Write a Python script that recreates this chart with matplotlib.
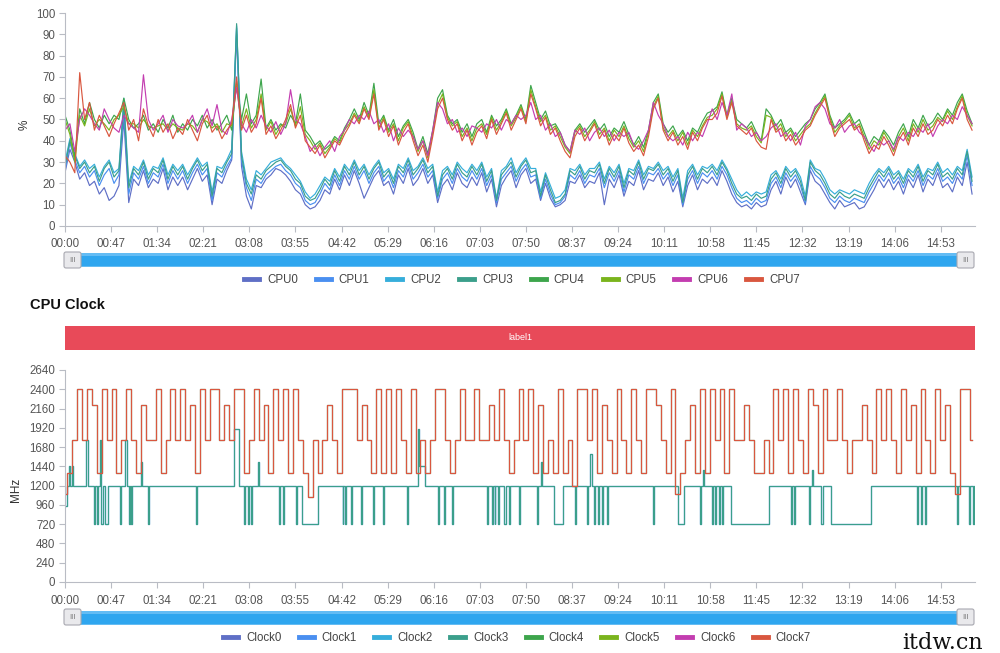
import numpy as np
import matplotlib.pyplot as plt
from matplotlib.patches import Rectangle, FancyBboxPatch
from matplotlib.lines import Line2D

plt.rcParams['font.family'] = ['Liberation Sans', 'DejaVu Sans']

# sample times in seconds (one reading every 5 s)
seconds = np.arange(0, 926, 5)

tick_labels = ["00:00", "00:47", "01:34", "02:21", "03:08", "03:55", "04:42",
               "05:29", "06:16", "07:03", "07:50", "08:37", "09:24", "10:11",
               "10:58", "11:45", "12:32", "13:19", "14:06", "14:53"]

# CPU load (%), 12 values per minute
cpu0 = [25, 36, 30, 22, 25, 19, 21, 15, 18, 12, 14, 19,
        50, 11, 22, 19, 26, 18, 22, 20, 27, 17, 23, 19,
        23, 17, 22, 27, 21, 24, 10, 22, 20, 26, 31, 90,
        28, 14, 8, 19, 18, 22, 24, 27, 26, 24, 21, 17,
        15, 10, 8, 9, 12, 17, 15, 22, 17, 24, 19, 26,
        20, 13, 18, 23, 26, 19, 21, 15, 24, 20, 27, 19,
        22, 27, 20, 24, 11, 19, 22, 17, 25, 20, 18, 23,
        19, 25, 16, 22, 9, 19, 23, 26, 18, 24, 27, 20,
        22, 12, 20, 13, 9, 10, 12, 21, 20, 24, 18, 21,
        20, 25, 10, 22, 18, 24, 14, 21, 19, 26, 17, 22,
        21, 25, 19, 23, 16, 21, 9, 19, 24, 17, 22, 20,
        23, 19, 26, 21, 15, 11, 9, 10, 8, 11, 9, 10,
        17, 21, 15, 23, 18, 22, 16, 10, 26, 21, 19, 15,
        11, 8, 12, 9, 10, 11, 8, 9, 13, 17, 22, 18,
        22, 17, 21, 15, 22, 18, 24, 16, 22, 19, 25, 18,
        20, 16, 23, 19, 30, 15]
cpu1 = [26, 39, 31, 25, 28, 23, 26, 19, 24, 27, 20, 24,
        55, 15, 25, 22, 28, 20, 25, 23, 29, 20, 26, 22,
        26, 20, 25, 29, 24, 27, 12, 25, 23, 28, 32, 93,
        31, 18, 12, 22, 20, 24, 26, 28, 29, 26, 24, 20,
        18, 12, 10, 11, 15, 20, 17, 24, 19, 26, 22, 28,
        22, 26, 20, 25, 28, 21, 24, 18, 26, 23, 29, 22,
        25, 29, 23, 26, 13, 22, 25, 20, 27, 23, 21, 26,
        22, 27, 19, 24, 11, 22, 25, 28, 21, 26, 29, 23,
        24, 13, 22, 15, 10, 11, 14, 24, 22, 26, 20, 24,
        23, 27, 18, 25, 21, 26, 16, 24, 22, 28, 20, 25,
        24, 27, 22, 25, 19, 24, 10, 22, 26, 20, 25, 23,
        26, 22, 28, 24, 18, 13, 11, 12, 10, 13, 11, 12,
        20, 23, 18, 25, 21, 24, 19, 11, 28, 24, 22, 18,
        13, 11, 14, 12, 11, 13, 12, 11, 16, 20, 24, 21,
        25, 20, 23, 18, 24, 21, 26, 19, 24, 22, 27, 21,
        23, 20, 25, 22, 33, 19]
cpu2 = [30, 41, 34, 28, 31, 27, 29, 23, 28, 31, 25, 27,
        60, 20, 28, 26, 31, 24, 28, 27, 32, 24, 29, 26,
        29, 24, 28, 32, 28, 30, 16, 28, 27, 31, 36, 94,
        35, 22, 17, 26, 24, 27, 30, 31, 32, 29, 27, 24,
        21, 16, 13, 15, 19, 23, 21, 27, 23, 29, 26, 31,
        26, 29, 24, 28, 31, 25, 27, 22, 29, 27, 32, 26,
        28, 32, 27, 29, 16, 26, 28, 24, 30, 27, 25, 29,
        26, 30, 23, 27, 13, 26, 28, 32, 25, 29, 32, 27,
        27, 16, 25, 19, 13, 14, 17, 27, 26, 29, 24, 27,
        27, 30, 22, 28, 25, 29, 20, 27, 26, 31, 24, 28,
        27, 30, 26, 28, 23, 27, 13, 26, 29, 24, 28, 27,
        29, 26, 31, 27, 22, 17, 14, 16, 14, 16, 15, 16,
        24, 26, 22, 28, 25, 27, 23, 14, 31, 27, 26, 22,
        17, 15, 17, 16, 15, 17, 16, 15, 20, 24, 27, 25,
        28, 24, 26, 22, 27, 25, 29, 23, 27, 26, 30, 25,
        27, 24, 28, 26, 36, 23]
cpu3 = [28, 40, 33, 27, 30, 25, 28, 21, 27, 30, 23, 26,
        58, 18, 27, 24, 30, 22, 27, 25, 31, 22, 28, 24,
        28, 22, 27, 31, 26, 29, 14, 27, 25, 30, 34, 95,
        33, 20, 15, 24, 22, 26, 28, 30, 31, 28, 26, 22,
        20, 14, 12, 13, 17, 22, 19, 26, 21, 28, 24, 30,
        24, 28, 22, 27, 30, 23, 26, 20, 28, 25, 31, 24,
        27, 31, 25, 28, 14, 24, 27, 22, 29, 25, 23, 28,
        24, 29, 21, 26, 12, 24, 27, 30, 23, 28, 31, 25,
        26, 14, 24, 17, 11, 12, 15, 26, 24, 28, 22, 26,
        25, 29, 20, 27, 23, 28, 18, 26, 24, 30, 22, 27,
        26, 29, 24, 27, 21, 26, 11, 24, 28, 22, 27, 25,
        28, 24, 30, 26, 20, 15, 13, 14, 12, 15, 13, 14,
        22, 25, 20, 27, 23, 26, 21, 12, 30, 26, 24, 20,
        15, 13, 16, 14, 13, 15, 14, 13, 18, 22, 26, 23,
        27, 22, 25, 20, 26, 23, 28, 21, 26, 24, 29, 23,
        25, 22, 27, 24, 35, 21]
cpu4 = [52, 45, 32, 55, 48, 58, 50, 46, 52, 48, 52, 50,
        60, 50, 46, 48, 52, 45, 48, 44, 50, 46, 52, 44,
        48, 45, 50, 47, 52, 46, 50, 45, 48, 52, 45, 68,
        50, 62, 48, 52, 69, 46, 50, 45, 48, 46, 52, 48,
        62, 45, 42, 38, 40, 36, 38, 42, 40, 46, 50, 55,
        50, 58, 52, 67, 48, 52, 45, 50, 42, 47, 50, 44,
        36, 42, 34, 45, 60, 64, 52, 48, 50, 44, 48, 42,
        48, 50, 44, 52, 47, 50, 55, 48, 52, 57, 50, 66,
        58, 50, 54, 47, 48, 44, 38, 35, 45, 48, 44, 47,
        50, 45, 48, 42, 46, 44, 49, 43, 38, 42, 37, 45,
        58, 62, 48, 44, 47, 42, 45, 40, 46, 44, 49, 53,
        54, 56, 63, 52, 60, 50, 48, 46, 49, 44, 40, 55,
        52, 47, 50, 44, 46, 42, 45, 48, 50, 55, 58, 62,
        52, 46, 48, 50, 53, 48, 50, 44, 38, 42, 40, 45,
        42, 38, 44, 48, 42, 50, 46, 52, 47, 49, 53, 50,
        55, 52, 58, 62, 54, 48]
cpu5 = [50, 43, 30, 52, 47, 55, 47, 50, 48, 45, 50, 52,
        56, 48, 48, 46, 50, 47, 46, 47, 48, 45, 48, 46,
        45, 48, 47, 44, 50, 49, 46, 48, 44, 48, 47, 66,
        47, 55, 46, 50, 62, 45, 49, 43, 47, 48, 55, 47,
        56, 43, 40, 36, 39, 34, 37, 41, 39, 45, 48, 53,
        49, 56, 51, 64, 46, 51, 44, 48, 40, 46, 49, 42,
        35, 40, 32, 44, 57, 62, 51, 47, 49, 42, 46, 40,
        46, 48, 43, 51, 45, 49, 54, 47, 51, 56, 49, 64,
        56, 49, 52, 45, 47, 42, 37, 34, 44, 47, 42, 45,
        49, 43, 46, 40, 45, 42, 47, 41, 37, 40, 35, 44,
        56, 61, 46, 42, 45, 40, 44, 38, 45, 42, 47, 51,
        52, 55, 62, 51, 59, 48, 46, 45, 47, 42, 39, 52,
        51, 45, 48, 42, 45, 40, 43, 46, 48, 53, 57, 61,
        51, 44, 47, 49, 52, 46, 48, 42, 36, 40, 38, 44,
        40, 35, 42, 46, 40, 48, 44, 50, 45, 47, 51, 49,
        54, 50, 56, 61, 52, 47]
cpu6 = [45, 48, 35, 50, 55, 52, 48, 45, 55, 50, 46, 44,
        52, 48, 46, 44, 71, 50, 45, 48, 52, 44, 50, 47,
        46, 48, 52, 44, 50, 55, 47, 57, 45, 43, 50, 65,
        48, 44, 50, 46, 52, 47, 44, 49, 43, 48, 64, 50,
        48, 42, 35, 38, 33, 37, 40, 35, 42, 45, 50, 48,
        52, 50, 54, 48, 50, 44, 48, 40, 46, 42, 45, 42,
        36, 40, 33, 45, 58, 55, 48, 50, 44, 46, 42, 47,
        46, 44, 48, 46, 50, 45, 50, 48, 52, 50, 52, 58,
        50, 52, 45, 48, 42, 44, 38, 35, 45, 43, 46, 40,
        44, 46, 42, 45, 40, 44, 42, 44, 38, 36, 40, 45,
        58, 52, 48, 42, 40, 42, 38, 44, 40, 44, 42, 48,
        55, 50, 58, 52, 62, 45, 48, 46, 42, 44, 40, 42,
        46, 48, 42, 44, 40, 44, 38, 47, 50, 56, 58, 55,
        48, 46, 50, 44, 47, 48, 44, 42, 38, 35, 40, 38,
        40, 36, 42, 40, 44, 42, 46, 44, 48, 42, 47, 50,
        48, 52, 50, 56, 52, 48]
cpu7 = [33, 30, 25, 72, 50, 58, 45, 52, 47, 42, 48, 53,
        58, 45, 50, 40, 55, 47, 42, 50, 44, 48, 41, 46,
        43, 50, 45, 40, 48, 52, 44, 47, 41, 45, 48, 70,
        45, 52, 44, 48, 60, 43, 47, 41, 45, 50, 57, 46,
        52, 40, 37, 34, 38, 32, 36, 40, 38, 43, 47, 52,
        48, 55, 50, 62, 45, 50, 42, 47, 38, 44, 48, 40,
        33, 38, 30, 42, 55, 60, 50, 45, 48, 40, 45, 38,
        44, 47, 41, 50, 43, 48, 53, 45, 50, 55, 48, 62,
        55, 47, 51, 43, 46, 40, 35, 32, 42, 46, 40, 44,
        48, 41, 45, 38, 43, 40, 46, 39, 35, 38, 33, 42,
        55, 60, 45, 40, 44, 38, 42, 36, 44, 40, 46, 50,
        50, 53, 61, 50, 58, 47, 45, 43, 46, 40, 37, 36,
        50, 44, 46, 40, 43, 38, 41, 45, 47, 52, 56, 60,
        50, 42, 46, 48, 50, 45, 47, 40, 34, 38, 36, 42,
        38, 33, 40, 44, 38, 46, 42, 48, 43, 45, 50, 47,
        52, 48, 55, 60, 50, 45]

# big-core clock (MHz), one reading every 5 s
big_mhz = [1100, 1363, 1766, 2400, 1766, 2400, 2208, 1363, 2400, 1766, 2400, 1363,
           1766, 2400, 1766, 1363, 2208, 1766, 1766, 2400, 1363, 1766, 2400, 1766,
           2400, 1766, 2208, 1363, 2400, 1766, 2400, 2400, 1766, 2208, 1766, 2400,
           2400, 1363, 1766, 2400, 1766, 2208, 1363, 2400, 1766, 2400, 1363, 2400,
           1766, 1363, 1056, 1766, 1363, 1766, 2208, 1766, 1363, 2400, 2400, 2400,
           1766, 2208, 1766, 1363, 2400, 1363, 2400, 1363, 2400, 1766, 1363, 2400,
           1363, 1766, 1363, 1766, 2400, 2400, 1766, 1363, 1766, 2400, 1766, 1766,
           2400, 1766, 1766, 2208, 1766, 2400, 1766, 1363, 1766, 2400, 1766, 2400,
           1363, 2208, 1363, 1766, 1363, 2400, 1363, 1766, 1190, 2400, 2400, 1766,
           2400, 1363, 2208, 1766, 1363, 2400, 1766, 1363, 2400, 1766, 1363, 2400,
           2400, 2208, 1766, 1363, 2400, 1100, 1363, 1766, 2208, 1363, 2400, 1363,
           2400, 1766, 2400, 1363, 2400, 1766, 1766, 2208, 1766, 1363, 1363, 1766,
           1363, 2400, 1766, 2400, 1363, 2400, 1766, 1363, 2400, 2208, 1363, 2400,
           1766, 1766, 2400, 1766, 1363, 1766, 1766, 2208, 1766, 1363, 2400, 1766,
           2400, 1766, 1363, 2400, 1766, 2208, 1363, 2400, 1766, 1363, 2400, 1766,
           2208, 1363, 1100, 2400, 2400, 1766]

# little-core clock: times (s) where the level changes, and the new level (MHz)
little_t = [0, 2, 4, 5, 7, 8, 21, 23, 30, 31, 33, 34, 36, 37, 39, 41, 44, 56, 57,
            61, 63, 65, 66, 67, 68, 78, 79, 85, 86, 134, 135, 172, 177, 183, 184,
            187, 188, 190, 191, 197, 198, 218, 219, 222, 223, 236, 237, 242, 258,
            283, 284, 286, 287, 292, 293, 302, 303, 314, 315, 324, 325, 349, 350,
            360, 361, 367, 380, 381, 387, 388, 395, 396, 430, 431, 435, 436, 438,
            439, 442, 443, 448, 450, 453, 454, 463, 464, 481, 482, 485, 486, 499,
            508, 520, 521, 532, 533, 535, 537, 539, 540, 544, 545, 548, 549, 553,
            554, 600, 601, 625, 631, 648, 649, 651, 652, 660, 661, 663, 664, 667,
            668, 670, 671, 679, 718, 740, 741, 743, 744, 759, 760, 762, 763, 771,
            773, 781, 822, 869, 870, 873, 874, 877, 878, 910, 911, 922, 923, 926,
            927, 929]
little_mhz = [950, 1200, 1440, 1200, 1440, 1200, 1766, 1200, 720, 1200, 720, 1200,
              1766, 720, 1200, 720, 1200, 720, 1200, 1766, 1200, 720, 1200, 720,
              1200, 1500, 1200, 720, 1200, 720, 1200, 1900, 1200, 720, 1200, 720,
              1200, 720, 1200, 1500, 1200, 720, 1200, 720, 1200, 720, 1200, 720,
              1200, 720, 1200, 720, 1200, 720, 1200, 720, 1200, 720, 1200, 720,
              1200, 720, 1200, 1900, 1440, 1200, 720, 1200, 720, 1200, 720, 1200,
              720, 1200, 720, 1200, 720, 1200, 720, 1200, 720, 1200, 720, 1200,
              720, 1200, 720, 1200, 1500, 1200, 720, 1200, 720, 1200, 720, 1200,
              1600, 1200, 720, 1200, 720, 1200, 720, 1200, 720, 1200, 720, 1200,
              720, 1200, 720, 1200, 1400, 1200, 720, 1200, 720, 1200, 720, 1200,
              720, 1200, 720, 1200, 720, 1200, 720, 1200, 720, 1200, 1400, 1200,
              720, 1200, 720, 1200, 720, 1200, 720, 1200, 720, 1200, 720, 1200,
              720, 1200, 720, 1200, 1200]

colors = ["#5f6fc6", "#4a8ff0", "#36aedb", "#3b9f8b", "#3da54c", "#7ab41d", "#c33db0", "#d9573f"]
cpu_names = ["CPU0", "CPU1", "CPU2", "CPU3", "CPU4", "CPU5", "CPU6", "CPU7"]
clock_names = ["Clock0", "Clock1", "Clock2", "Clock3", "Clock4", "Clock5", "Clock6", "Clock7"]
cpu_series = [cpu0, cpu1, cpu2, cpu3, cpu4, cpu5, cpu6, cpu7]

W, H = 1000, 653
fig = plt.figure(figsize=(W / 100, H / 100), dpi=100)
fig.patch.set_facecolor("white")


def fig_box(x0, y0, x1, y1):
    # pixel box (top-left origin) -> figure fraction rect
    return [x0 / W, 1 - y1 / H, (x1 - x0) / W, (y1 - y0) / H]


def style_axis(ax, ymax, ystep):
    ax.set_xlim(0, 928)
    ax.set_ylim(0, ymax)
    ax.set_yticks(np.arange(0, ymax + 1, ystep))
    ax.set_xticks(np.arange(0, 47 * len(tick_labels), 47))
    ax.set_xticklabels(tick_labels)
    for s in ["top", "right"]:
        ax.spines[s].set_visible(False)
    for s in ["left", "bottom"]:
        ax.spines[s].set_color("#b9bcc4")
        ax.spines[s].set_linewidth(0.8)
    ax.tick_params(axis="both", colors="#b9bcc4", labelcolor="#555555",
                   labelsize=8.3, length=4, width=0.8)
    ax.tick_params(axis="x", pad=5)
    ax.tick_params(axis="y", pad=3)


def slider(y0):
    sax = fig.add_axes(fig_box(60, y0, 980, y0 + 18))
    sax.set_xlim(60, 980)
    sax.set_ylim(18, 0)
    sax.axis("off")
    sax.add_patch(Rectangle((66, 2.5), 906, 13, fc="#2fa6ef", ec="#5cb8f2", lw=0.6))
    sax.add_patch(Rectangle((66, 2.5), 906, 3, fc="#63bcf4", ec="none"))
    for hx in (64, 957):
        sax.add_patch(FancyBboxPatch((hx, 1), 17, 16, boxstyle="round,pad=0,rounding_size=2",
                                     fc="#e9e9ec", ec="#a8a8b0", lw=0.8))
        sax.text(hx + 8.5, 9.2, "III", ha="center", va="center", fontsize=5.5, color="#777777")


def legend(handles, labels, y, cx, spacing):
    fig.legend(handles, labels, loc="center", bbox_to_anchor=(cx / W, 1 - y / H),
               ncol=8, frameon=False, fontsize=8.3, handlelength=1.3,
               handletextpad=0.7, columnspacing=spacing, labelcolor="#444444")


# ---- CPU usage panel ----
ax1 = fig.add_axes(fig_box(65, 13, 975, 226))
for vals, col in zip(cpu_series, colors):
    ax1.plot(seconds, vals, color=col, lw=0.85)
style_axis(ax1, 100, 10)
fig.text(25 / W, 1 - 125 / H, "%", rotation=90, ha="center", va="center", fontsize=8.5, color="#333333")
slider(251)
legend([Line2D([], [], color=c, lw=3.5) for c in colors], cpu_names, 280, 522, 1.55)

# ---- CPU clock panel ----
fig.text(30 / W, 1 - 305 / H, "CPU Clock", ha="left", va="center", fontsize=10.5,
         fontweight="bold", color="#111111")
band = fig.add_axes(fig_box(65, 326, 975, 350))
band.axis("off")
band.add_patch(Rectangle((0, 0), 1, 1, fc="#e84a59", ec="none", transform=band.transAxes))
band.text(0.5, 0.5, "label1", ha="center", va="center", fontsize=6.5, color="white",
          transform=band.transAxes)

ax2 = fig.add_axes(fig_box(65, 370, 975, 582))
for i, col in enumerate(colors):
    if i < 4:
        ax2.plot(little_t, little_mhz, color=col, lw=0.8, drawstyle="steps-post")
    else:
        ax2.plot(seconds, big_mhz, color=col, lw=0.8, drawstyle="steps-mid")
style_axis(ax2, 2640, 240)
fig.text(16 / W, 1 - 490 / H, "MHz", rotation=90, ha="center", va="center", fontsize=8.5, color="#333333")
slider(608)
legend([Line2D([], [], color=c, lw=3.5) for c in colors], clock_names, 638, 517, 1.5)

# site watermark in the bottom-right corner
fig.text(902 / W, 1 - 643 / H, "itdw.cn", ha="left", va="center", fontsize=16,
         family="DejaVu Serif", color="#111111")

fig.savefig("out.png", dpi=100)
